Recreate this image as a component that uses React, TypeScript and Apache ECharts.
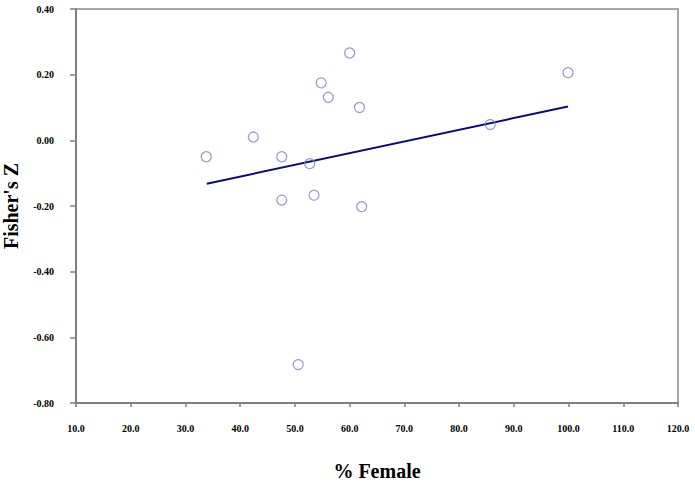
import React, { useEffect, useRef } from "react";
import * as echarts from "echarts";

const pctFemale = [33.8, 42.4, 47.6, 52.7, 47.6, 53.5, 54.8, 56.1, 60.0, 61.8, 62.2, 85.7, 99.9, 50.6];
const fishersZ = [-0.05, 0.01, -0.05, -0.071, -0.182, -0.167, 0.175, 0.131, 0.266, 0.1, -0.202, 0.048, 0.206, -0.683];
const fitX = [33.9, 99.9];
const fitY = [-0.132, 0.103];

const FONT = "'Liberation Serif', 'Times New Roman', serif";

export default function App() {
  const ref = useRef<HTMLDivElement>(null);
  useEffect(() => {
    if (!ref.current) return;
    const chart = echarts.init(ref.current, undefined, { renderer: "svg" });
    const axisLine = { show: true, onZero: false, lineStyle: { color: "#7f7f7f", width: 2 } };
    chart.setOption({
      animation: false,
      backgroundColor: "#ffffff",
      grid: {
        left: 76,
        top: 9,
        right: 17,
        bottom: 80,
        show: true,
        borderColor: "#8a8a8a",
        borderWidth: 1.5,
        containLabel: false,
        outerBoundsMode: "none",
      },
      xAxis: {
        type: "value",
        min: 10,
        max: 120,
        interval: 10,
        axisLine,
        axisTick: { show: true, length: 4, inside: false, lineStyle: { color: "#7f7f7f", width: 1.5 } },
        splitLine: { show: false },
        axisLabel: {
          color: "#000",
          fontFamily: FONT,
          fontWeight: "bold",
          fontSize: 10,
          margin: 20,
          formatter: (v: number) => v.toFixed(1),
        },
        name: "% Female",
        nameLocation: "middle",
        nameGap: 58,
        nameTextStyle: { color: "#000", fontFamily: FONT, fontWeight: "bold", fontSize: 20 },
      },
      yAxis: {
        type: "value",
        min: -0.8,
        max: 0.4,
        interval: 0.2,
        axisLine,
        axisTick: { show: true, length: 6, inside: false, lineStyle: { color: "#7f7f7f", width: 1.5 } },
        splitLine: { show: false },
        axisLabel: {
          color: "#000",
          fontFamily: FONT,
          fontWeight: "bold",
          fontSize: 10,
          margin: 22,
          formatter: (v: number) => v.toFixed(2),
        },
        name: "Fisher's Z",
        nameLocation: "middle",
        nameGap: 55,
        nameRotate: 90,
        nameTextStyle: { color: "#000", fontFamily: FONT, fontWeight: "bold", fontSize: 20 },
      },
      series: [
        {
          type: "line",
          data: fitX.map((x, i) => [x, fitY[i]]),
          symbol: "none",
          lineStyle: { color: "#0a0a80", width: 2 },
          z: 2,
        },
        {
          type: "scatter",
          data: pctFemale.map((x, i) => [x, fishersZ[i]]),
          symbol: "circle",
          symbolSize: 10,
          itemStyle: { color: "rgba(255,255,255,0)", borderColor: "#8585cc", borderWidth: 1.3 },
          z: 3,
        },
      ],
    });
    return () => chart.dispose();
  }, []);
  return <div ref={ref} style={{ width: 695, height: 483, position: "absolute", left: 0, top: 0 }} />;
}
